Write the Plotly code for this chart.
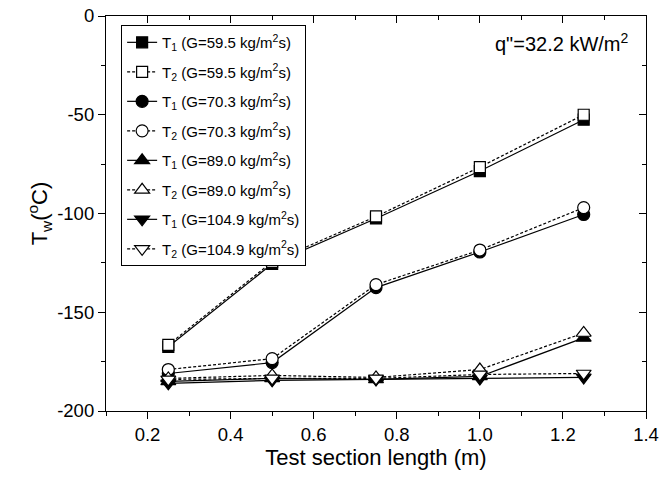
import plotly.graph_objects as go

x_len = [0.25, 0.5, 0.75, 1.0, 1.25]

t1_595 = [-167.5, -125.5, -102.5, -78.5, -52.5]
t2_595 = [-166.5, -124.5, -101.5, -76.5, -50.0]
t1_703 = [-181.0, -175.5, -137.5, -119.5, -100.5]
t2_703 = [-179.0, -173.5, -136.0, -118.5, -97.0]
t1_890 = [-185.0, -183.5, -184.0, -182.5, -163.0]
t2_890 = [-183.5, -182.0, -183.0, -179.0, -160.5]
t1_1049 = [-186.0, -184.5, -184.0, -183.5, -183.0]
t2_1049 = [-184.0, -183.5, -183.5, -181.5, -181.0]

x_ticks = [0.2, 0.4, 0.6, 0.8, 1.0, 1.2, 1.4]
x_tick_text = ["0.2", "0.4", "0.6", "0.8", "1.0", "1.2", "1.4"]
y_ticks = [0, -50, -100, -150, -200]
y_tick_text = ["0", "-50", "-100", "-150", "-200"]

names = [
    "T<sub>1</sub> (G=59.5 kg/m<sup>2</sup>s)",
    "T<sub>2</sub> (G=59.5 kg/m<sup>2</sup>s)",
    "T<sub>1</sub> (G=70.3 kg/m<sup>2</sup>s)",
    "T<sub>2</sub> (G=70.3 kg/m<sup>2</sup>s)",
    "T<sub>1</sub> (G=89.0 kg/m<sup>2</sup>s)",
    "T<sub>2</sub> (G=89.0 kg/m<sup>2</sup>s)",
    "T<sub>1</sub> (G=104.9 kg/m<sup>2</sup>s)",
    "T<sub>2</sub> (G=104.9 kg/m<sup>2</sup>s)",
]
series = [t1_595, t2_595, t1_703, t2_703, t1_890, t2_890, t1_1049, t2_1049]
symbols = ["square", "square", "circle", "circle",
           "triangle-up", "triangle-up", "triangle-down", "triangle-down"]
sizes = [11, 11, 12, 12, 13, 13, 13, 13]

FONT = "Liberation Sans, Arial, Helvetica, sans-serif"

fig = go.Figure()
for i, (nm, ys, sym, sz) in enumerate(zip(names, series, symbols, sizes)):
    dashed = i % 2 == 1
    fig.add_trace(go.Scatter(
        x=x_len, y=ys, name=nm, mode="lines+markers",
        legendgroup=f"g{i}",
        line=dict(color="black", width=1.2, dash="3px,2px" if dashed else "solid"),
        marker=dict(symbol=sym, size=sz, color="white" if dashed else "black",
                    line=dict(color="black", width=1.2)),
    ))

# invisible trace to activate mirrored axes
fig.add_trace(go.Scatter(x=[0.1], y=[0], xaxis="x2", yaxis="y2", mode="markers",
                         marker=dict(opacity=0), showlegend=False, hoverinfo="skip"))

axis_common = dict(showline=True, linecolor="black", linewidth=1.2, showgrid=False,
                   zeroline=False, tickcolor="black", tickwidth=1.2, automargin=False)

fig.update_layout(
    width=672, height=480,
    margin=dict(l=106, r=26, t=16, b=69),
    plot_bgcolor="white", paper_bgcolor="white",
    font=dict(family=FONT, color="black", size=18),
    xaxis=dict(range=[0.1, 1.4], tickmode="array", tickvals=x_ticks, ticktext=x_tick_text,
               ticks="outside", ticklen=7,
               minor=dict(dtick=0.1, tick0=0.1, ticks="outside", ticklen=4,
                          tickcolor="black", tickwidth=1.2),
               title=dict(text="Test section length (m)", font=dict(size=22), standoff=4),
               tickfont=dict(size=18.5), **axis_common),
    yaxis=dict(range=[-200, 0], tickmode="array", tickvals=y_ticks, ticktext=y_tick_text,
               ticks="outside", ticklen=7,
               minor=dict(dtick=25, tick0=0, ticks="outside", ticklen=4,
                          tickcolor="black", tickwidth=1.2),
               title=dict(text="T<sub>w</sub>(<sup>o</sup>C)", font=dict(size=22), standoff=3),
               tickfont=dict(size=18.5), **axis_common),
    xaxis2=dict(range=[0.1, 1.4], overlaying="x", side="top", tickmode="array",
                tickvals=x_ticks, ticks="inside", ticklen=7, showticklabels=False,
                minor=dict(dtick=0.1, tick0=0.1, ticks="inside", ticklen=4,
                           tickcolor="black", tickwidth=1.2),
                **axis_common),
    yaxis2=dict(range=[-200, 0], overlaying="y", side="right", tickmode="array",
                tickvals=y_ticks, ticks="inside", ticklen=7, showticklabels=False,
                minor=dict(dtick=25, tick0=0, ticks="inside", ticklen=4,
                           tickcolor="black", tickwidth=1.2),
                **axis_common),
    legend=dict(x=0.028, y=0.977, xanchor="left", yanchor="top",
                bgcolor="white", bordercolor="black", borderwidth=1,
                font=dict(size=15), tracegroupgap=7,
                itemsizing="trace"),
    showlegend=True,
)

fig.add_annotation(text='q"=32.2 kW/m<sup>2</sup>', x=0.97, y=0.932,
                   xref="paper", yref="paper", xanchor="right", yanchor="middle",
                   showarrow=False, font=dict(size=20))

fig.write_html("out.html")
